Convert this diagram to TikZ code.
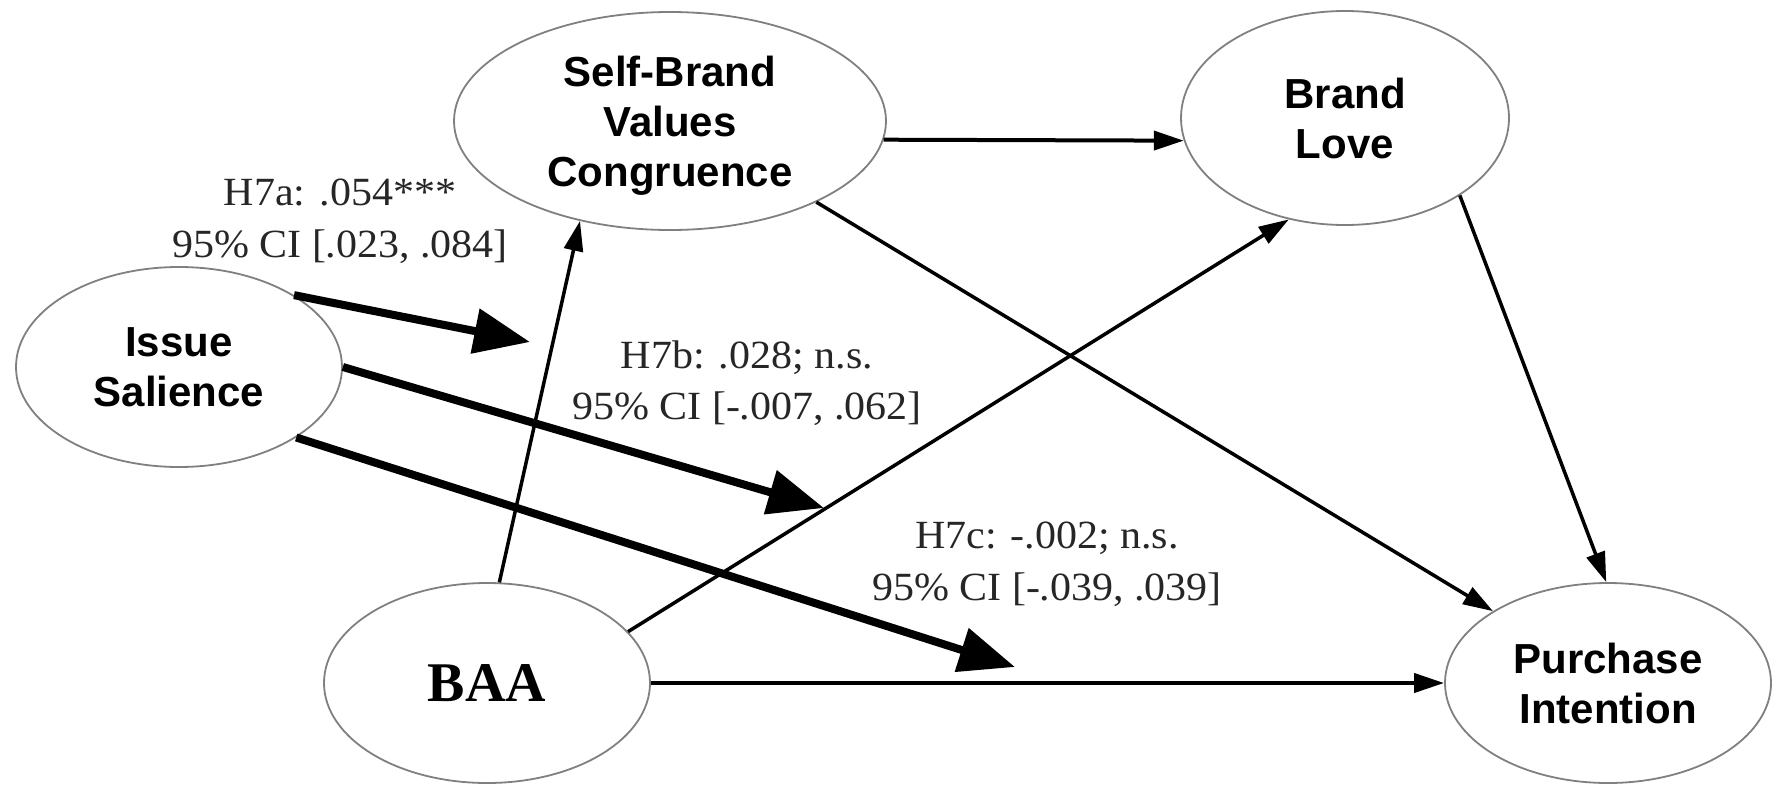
\documentclass[tikz,border=0pt]{standalone}
\usepackage{fontspec}
\usepackage{graphicx}
\setmainfont{Liberation Serif}
\newfontfamily\constructfont{Liberation Sans}
\usetikzlibrary{arrows.meta,shapes.geometric}

% coefficient labels are set slightly wide
\newcommand\coeftext[1]{\scalebox{1.05}[1]{#1}}

\begin{document}
\begin{tikzpicture}[x=1pt,y=-1pt,
  construct/.style={ellipse, draw=black!50, line width=1.8pt, fill=white,
    inner sep=0pt, align=center,
    font=\constructfont\bfseries\fontsize{42}{50}\selectfont},
  pathline/.style={line width=3.5pt, -{Triangle[length=30pt,width=19pt]}},
  moderation/.style={line width=8pt, -{Triangle[length=56pt,width=44pt]}},
  coef/.style={anchor=base, inner sep=0pt, text=black!85,
    font=\fontsize{40}{40}\selectfont}
]
\fill[white] (0,0) rectangle (1773,785);
\useasboundingbox (0,0) rectangle (1773,785);

% constructs
\node[construct, minimum width=432pt, minimum height=218pt] (sbvc) at (670,121)
  {Self-Brand\\Values\\\raisebox{0pt}[\height][0pt]{Congruence}};
\node[construct, minimum width=328pt, minimum height=214pt] (bl) at (1345,118)
  {Brand\\Love};
\node[construct, minimum width=326pt, minimum height=200pt] (is) at (179,367)
  {Issue\\Salience};
\node[construct, minimum width=326pt, minimum height=200pt,
  font=\rmfamily\bfseries\fontsize{56}{60}\selectfont] (baa) at (487,683) {BAA};
\node[construct, minimum width=326pt, minimum height=200pt] (pi) at (1608,683)
  {Purchase\\Intention};

% structural paths
\draw[pathline, line width=4pt] (sbvc.355) -- (bl.188);
\draw[pathline] (sbvc.331) -- (pi.148);
\draw[pathline] (bl.326) -- (pi.91);
\draw[pathline] (baa.83) -- (sbvc.228);
\draw[pathline] (baa.20) -- (bl.241);
\draw[pathline, line width=4pt] (baa) -- (pi);

% moderating effects of issue salience
\coordinate (t7a) at (530,342);
\coordinate (t7b) at (824,508);
\coordinate (t7c) at (1015,667);
\draw[moderation] (is.32) -- (t7a);
\draw[moderation] (is.0) -- (t7b);
\draw[moderation] (is.329) -- (t7c);

% coefficients
\node[coef] (h7a1) at (340,205) {\coeftext{H7a: .054***}};
\node[coef] (h7a2) at (340,257) {\coeftext{95\% CI [.023, .084]}};
\node[coef] (h7b1) at (747,368) {\coeftext{H7b: .028; n.s.}};
\node[coef] (h7b2) at (747,419) {\coeftext{95\% CI [-.007, .062]}};
\node[coef] (h7c1) at (1047,548) {\coeftext{H7c: -.002; n.s.}};
\node[coef] (h7c2) at (1047,600) {\coeftext{95\% CI [-.039, .039]}};
\end{tikzpicture}
\end{document}
